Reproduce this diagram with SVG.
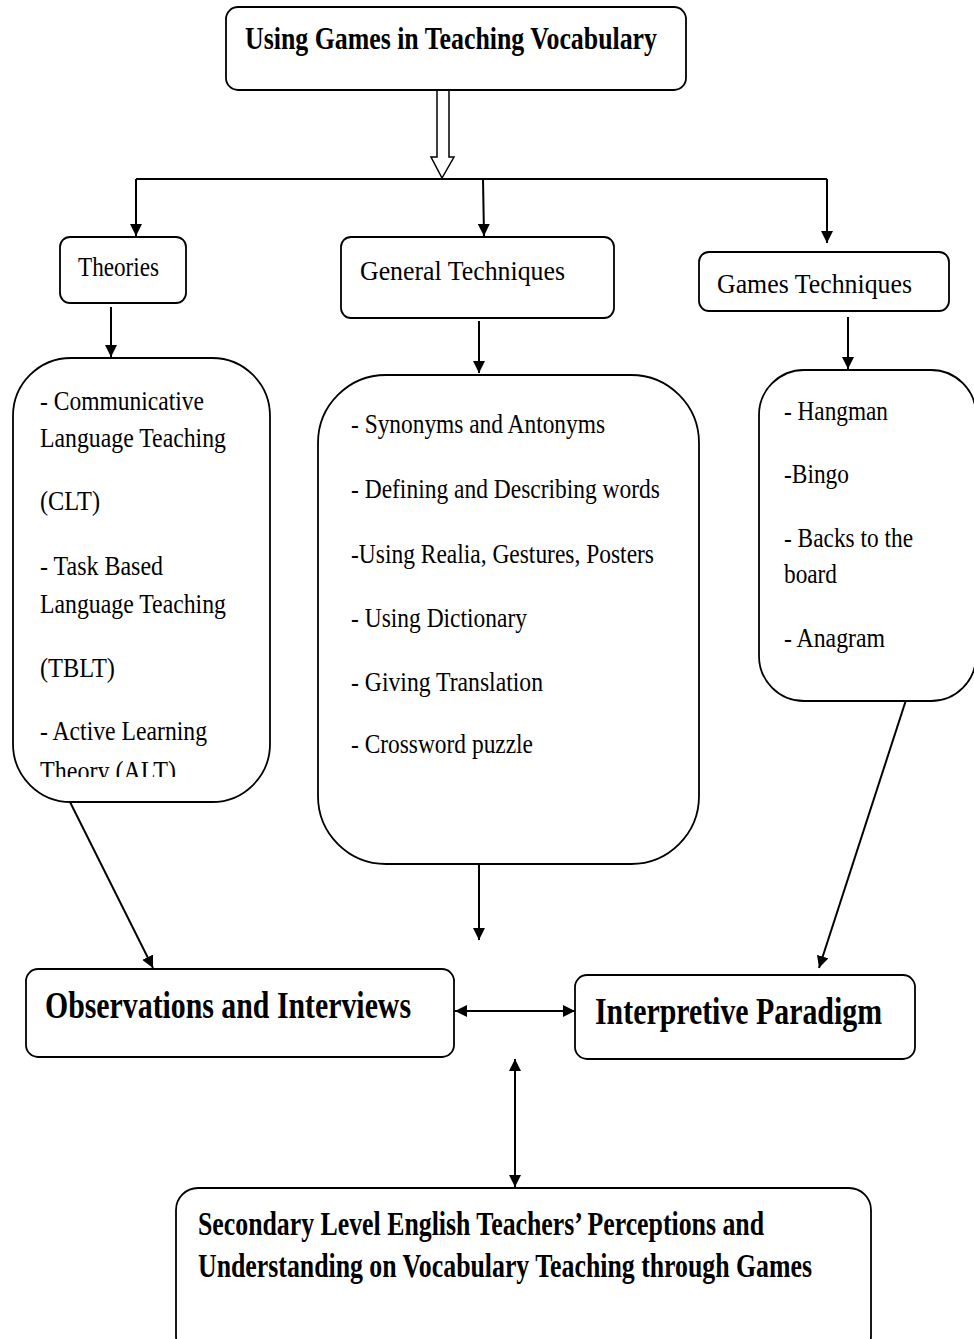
<svg xmlns="http://www.w3.org/2000/svg" width="974" height="1339" viewBox="0 0 974 1339">
<style>
.box{fill:#fff;stroke:#000;stroke-width:1.8}
.t{font-family:"Liberation Serif","Times New Roman",serif;font-size:27px;fill:#000}
.b{font-family:"Liberation Serif","Times New Roman",serif;font-weight:bold;fill:#000}
.c{fill:none;stroke:#000;stroke-width:2}
</style>
<defs>
<marker id="ah" viewBox="0 0 10 10" refX="10" refY="5" markerWidth="6" markerHeight="6" orient="auto-start-reverse" markerUnits="strokeWidth">
<path d="M0,0 L10,5 L0,10 z" fill="#000"/>
</marker>
<clipPath id="clipL"><rect x="0" y="350" width="300" height="427"/></clipPath>
</defs>
<rect width="974" height="1339" fill="#fff"/>

<g id="connectors">
<polygon points="437,90 449,90 449,157 454,157 442,178 431,157 437,157" fill="#fff" stroke="#000" stroke-width="1.5"/>
<line class="c" x1="136" y1="179" x2="827" y2="179"/>
<line class="c" x1="136" y1="179" x2="136" y2="236" marker-end="url(#ah)"/>
<line class="c" x1="483" y1="179" x2="484" y2="236" marker-end="url(#ah)"/>
<line class="c" x1="827" y1="179" x2="827" y2="243" marker-end="url(#ah)"/>
<line class="c" x1="111" y1="307" x2="111" y2="357" marker-end="url(#ah)"/>
<line class="c" x1="479" y1="321" x2="479" y2="373" marker-end="url(#ah)"/>
<line class="c" x1="848" y1="317" x2="848" y2="369" marker-end="url(#ah)"/>
<line class="c" x1="70" y1="802" x2="153" y2="968" marker-end="url(#ah)"/>
<line class="c" x1="479" y1="864" x2="479" y2="940" marker-end="url(#ah)"/>
<line class="c" x1="906" y1="700" x2="819" y2="968" marker-end="url(#ah)"/>
<line class="c" x1="455" y1="1011" x2="575" y2="1011" marker-start="url(#ah)" marker-end="url(#ah)"/>
<line class="c" x1="515" y1="1059" x2="515" y2="1187" marker-start="url(#ah)" marker-end="url(#ah)"/>
</g>

<g id="title">
<rect class="box" x="226" y="7" width="460" height="83" rx="12"/>
<text class="b" x="245" y="49" font-size="32" textLength="412" lengthAdjust="spacingAndGlyphs">Using Games in Teaching Vocabulary</text>
</g>

<g id="theories">
<rect class="box" x="60" y="237" width="126" height="66" rx="10"/>
<text class="t" x="78" y="276" textLength="81" lengthAdjust="spacingAndGlyphs">Theories</text>
</g>

<g id="general">
<rect class="box" x="341" y="237" width="273" height="81" rx="10"/>
<text class="t" x="360" y="280" textLength="205" lengthAdjust="spacingAndGlyphs">General Techniques</text>
</g>

<g id="games">
<rect class="box" x="699" y="252" width="250" height="59" rx="10"/>
<text class="t" x="717" y="293" textLength="195" lengthAdjust="spacingAndGlyphs">Games Techniques</text>
</g>

<g id="theoriesList">
<rect class="box" x="13" y="358" width="257" height="444" rx="58"/>
<g clip-path="url(#clipL)">
<text class="t" x="40" y="410" textLength="164" lengthAdjust="spacingAndGlyphs">- Communicative</text>
<text class="t" x="40" y="447" textLength="186" lengthAdjust="spacingAndGlyphs">Language Teaching</text>
<text class="t" x="40" y="510" textLength="60" lengthAdjust="spacingAndGlyphs">(CLT)</text>
<text class="t" x="40" y="575" textLength="123" lengthAdjust="spacingAndGlyphs">- Task Based</text>
<text class="t" x="40" y="613" textLength="186" lengthAdjust="spacingAndGlyphs">Language Teaching</text>
<text class="t" x="40" y="677" textLength="75" lengthAdjust="spacingAndGlyphs">(TBLT)</text>
<text class="t" x="40" y="740" textLength="167" lengthAdjust="spacingAndGlyphs">- Active Learning</text>
<text class="t" x="40" y="780" textLength="136" lengthAdjust="spacingAndGlyphs">Theory (ALT)</text>
</g>
</g>

<g id="generalList">
<rect class="box" x="318" y="375" width="381" height="489" rx="68"/>
<text class="t" x="351" y="433" textLength="254" lengthAdjust="spacingAndGlyphs">- Synonyms and Antonyms</text>
<text class="t" x="351" y="498" textLength="309" lengthAdjust="spacingAndGlyphs">- Defining and Describing words</text>
<text class="t" x="351" y="563" textLength="303" lengthAdjust="spacingAndGlyphs">-Using Realia, Gestures, Posters</text>
<text class="t" x="351" y="627" textLength="176" lengthAdjust="spacingAndGlyphs">- Using Dictionary</text>
<text class="t" x="351" y="691" textLength="192" lengthAdjust="spacingAndGlyphs">- Giving Translation</text>
<text class="t" x="351" y="753" textLength="182" lengthAdjust="spacingAndGlyphs">- Crossword puzzle</text>
</g>

<g id="gamesList">
<rect class="box" x="759" y="370" width="217" height="331" rx="45"/>
<text class="t" x="784" y="420" textLength="104" lengthAdjust="spacingAndGlyphs">- Hangman</text>
<text class="t" x="784" y="483" textLength="65" lengthAdjust="spacingAndGlyphs">-Bingo</text>
<text class="t" x="784" y="547" textLength="129" lengthAdjust="spacingAndGlyphs">- Backs to the</text>
<text class="t" x="784" y="583" textLength="53" lengthAdjust="spacingAndGlyphs">board</text>
<text class="t" x="784" y="647" textLength="101" lengthAdjust="spacingAndGlyphs">- Anagram</text>
</g>

<g id="observations">
<rect class="box" x="26" y="969" width="428" height="88" rx="12"/>
<text class="b" x="45" y="1018" font-size="37" textLength="366" lengthAdjust="spacingAndGlyphs">Observations and Interviews</text>
</g>

<g id="interpretive">
<rect class="box" x="575" y="975" width="340" height="84" rx="12"/>
<text class="b" x="595" y="1024" font-size="37" textLength="287" lengthAdjust="spacingAndGlyphs">Interpretive Paradigm</text>
</g>

<g id="perceptions">
<rect class="box" x="176" y="1188" width="695" height="170" rx="22"/>
<text class="b" x="198" y="1235" font-size="33" textLength="566" lengthAdjust="spacingAndGlyphs">Secondary Level English Teachers’ Perceptions and</text>
<text class="b" x="198" y="1277" font-size="33" textLength="614" lengthAdjust="spacingAndGlyphs">Understanding on Vocabulary Teaching through Games</text>
</g>
</svg>
